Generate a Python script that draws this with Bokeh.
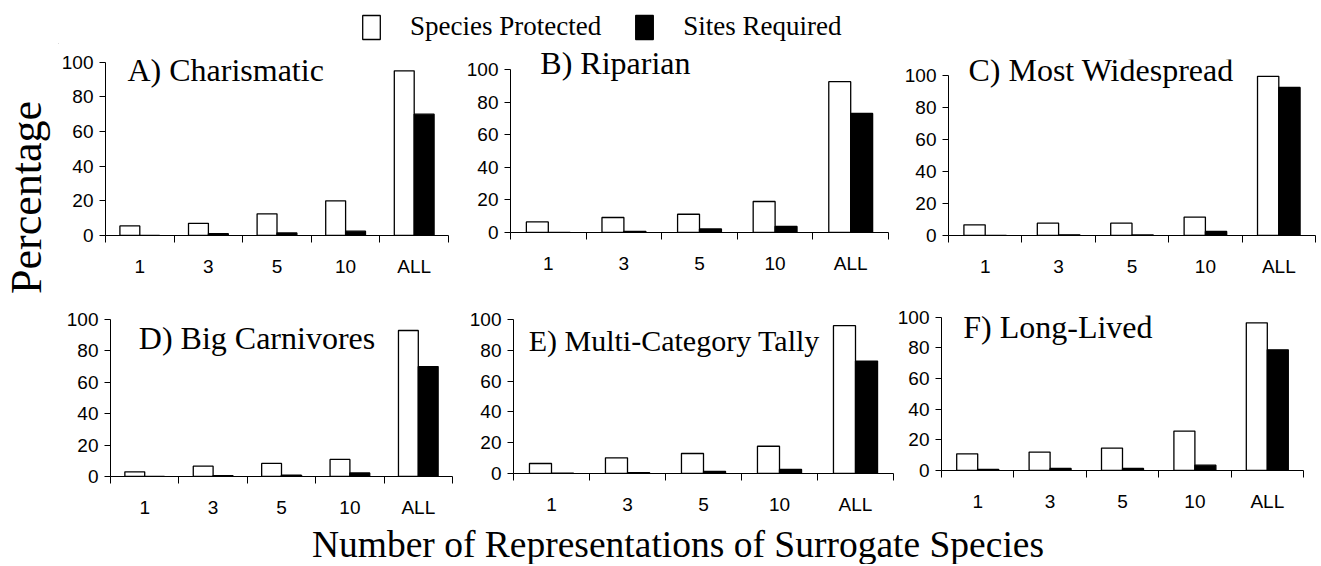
import math
from bokeh.plotting import figure
from bokeh.layouts import row, column
from bokeh.models import (Range1d, FixedTicker, Label, Legend, LegendItem,
                          ColumnDataSource)
from bokeh.transform import dodge
from bokeh.embed import file_html
from bokeh.resources import INLINE

# ---------------- data ----------------
categories = ["1", "3", "5", "10", "ALL"]
y_ticks = [0, 20, 40, 60, 80, 100]

titles = ["A) Charismatic", "B) Riparian", "C) Most Widespread",
          "D) Big Carnivores", "E) Multi-Category Tally", "F) Long-Lived"]

protected_a = [5.5, 7.0, 12.5, 20.0, 95.0]
required_a = [0.0, 1.0, 1.5, 2.5, 70.0]
protected_b = [6.5, 9.2, 11.2, 19.0, 92.5]
required_b = [0.0, 0.6, 2.2, 3.7, 73.0]
protected_c = [6.7, 7.7, 7.7, 11.5, 99.5]
required_c = [0.0, 0.4, 0.3, 2.5, 92.5]
protected_d = [3.0, 6.6, 8.3, 10.9, 93.0]
required_d = [0.0, 0.6, 0.8, 2.3, 70.0]
protected_e = [6.5, 10.2, 13.0, 17.7, 96.0]
required_e = [0.2, 0.6, 1.3, 2.6, 73.0]
protected_f = [10.9, 12.0, 14.6, 25.7, 96.3]
required_f = [0.7, 1.3, 1.3, 3.5, 78.7]

legend_labels = ["Species Protected", "Sites Required"]
x_title = "Number of Representations of Surrogate Species"
y_title = "Percentage"

# ---------------- styling / geometry ----------------
SERIF = "Liberation Serif"
SANS = "Liberation Sans"
BAR_W = 0.29

# (width, height, left, right, top, bottom, y_top, title_x, title_y, title_size)
geoms = [
    (405, 248, 46, 15, 9, 57, 105, -0.18, 95.4, 32),
    (435, 248, 44, 10, 0, 60, 115.3, -0.106, 103.65, 32),
    (421, 248, 50, 4, 15, 57, 110, -0.228, 103.3, 32),
    (408, 228, 52, 14, 27, 44, 100, -0.086, 87.9, 32),
    (428, 228, 47, 1, 27, 47, 100, -0.30, 86.5, 30),
    (425, 228, 46, 16, 17, 50, 105, -0.20, 93.9, 32),
]


def make_panel(title, protected, required, geom):
    w, h, L, R, T, B, ytop, tx, ty, fs = geom
    xs = list(range(len(categories)))
    p = figure(width=w, height=h, x_range=Range1d(-0.5, len(categories) - 0.5),
               y_range=Range1d(0, ytop), output_backend="svg",
               toolbar_location=None, min_border_left=L, min_border_right=R,
               min_border_top=T, min_border_bottom=B, outline_line_color=None,
               background_fill_color="white", border_fill_color="white",
               frame_align=False)
    p.grid.visible = False
    src = ColumnDataSource(dict(x=xs, sp=protected, sr=required))
    p.vbar(x=dodge("x", -BAR_W / 2, range=p.x_range), top="sp", bottom=0,
           width=BAR_W, source=src, fill_color="white", line_color="black",
           line_width=1.3)
    p.vbar(x=dodge("x", BAR_W / 2, range=p.x_range), top="sr", bottom=0,
           width=BAR_W, source=src, fill_color="black", line_color="black",
           line_width=1.3)

    xa = p.xaxis[0]
    xa.ticker = FixedTicker(ticks=xs,
                            minor_ticks=[i - 0.5 for i in range(len(categories) + 1)])
    xa.major_label_overrides = {i: c for i, c in enumerate(categories)}
    xa.major_tick_in = 0
    xa.major_tick_out = 0
    xa.minor_tick_in = 0
    xa.minor_tick_out = 7
    xa.minor_tick_line_color = "black"
    xa.axis_line_color = "black"
    xa.major_label_standoff = 13
    xa.major_label_text_font = SANS
    xa.major_label_text_font_size = "19px"
    xa.major_label_text_color = "black"

    ya = p.yaxis[0]
    ya.ticker = FixedTicker(ticks=y_ticks, minor_ticks=[])
    ya.bounds = (y_ticks[0], y_ticks[-1])
    ya.major_tick_in = 0
    ya.major_tick_out = 6
    ya.major_tick_line_color = "black"
    ya.minor_tick_out = 0
    ya.axis_line_color = "black"
    ya.major_label_standoff = 6
    ya.major_label_text_font = SANS
    ya.major_label_text_font_size = "19px"
    ya.major_label_text_color = "black"

    p.add_layout(Label(x=tx, y=ty, text=title, text_font=SERIF,
                       text_font_size=f"{fs}px", text_align="left",
                       text_baseline="alphabetic", text_color="black"))
    return p


data = [(protected_a, required_a), (protected_b, required_b),
        (protected_c, required_c), (protected_d, required_d),
        (protected_e, required_e), (protected_f, required_f)]
panels = [make_panel(t, d[0], d[1], g) for t, d, g in zip(titles, data, geoms)]

MAIN_W = 1261
YLAB_W = 58
TOTAL_H = 564


def blank(w, h):
    p = figure(width=w, height=h, x_range=Range1d(0, w), y_range=Range1d(0, h),
               output_backend="svg", toolbar_location=None,
               x_axis_location=None, y_axis_location=None,
               min_border=0, outline_line_color=None, frame_align=False)
    p.grid.visible = False
    return p


# legend strip (proxy renderers sit well outside the visible range)
leg = blank(MAIN_W, 44)
r_white = leg.vbar(x=[-500], top=[-499], bottom=[-500], width=1,
                   fill_color="white", line_color="black", line_width=1.3)
r_black = leg.vbar(x=[-500], top=[-499], bottom=[-500], width=1,
                   fill_color="black", line_color="black", line_width=1.3)
legend = Legend(items=[LegendItem(label=legend_labels[0], renderers=[r_white]),
                       LegendItem(label=legend_labels[1], renderers=[r_black])],
                orientation="horizontal", location=(302, 2),
                glyph_width=22, glyph_height=30, label_standoff=28, spacing=32,
                padding=0, margin=0, border_line_color=None,
                background_fill_alpha=0, label_text_font=SERIF,
                label_text_font_size="27px", label_text_color="black")
leg.add_layout(legend)

# x title strip
xlab = blank(MAIN_W, 44)
xlab.add_layout(Label(x=619.5, y=20, text=x_title, text_font=SERIF,
                      text_font_size="37.5px", text_align="center",
                      text_baseline="alphabetic", text_color="black"))

# y title strip
ylab = blank(YLAB_W, TOTAL_H)
ylab.add_layout(Label(x=25.5, y=367, text=y_title, text_font=SERIF,
                      text_font_size="44px", text_align="center",
                      text_baseline="alphabetic", angle=math.pi / 2,
                      text_color="black"))

main = column(leg, row(*panels[:3]), row(*panels[3:]), xlab)
root = row(ylab, main)

open("out.html", "w").write(file_html(root, INLINE))
